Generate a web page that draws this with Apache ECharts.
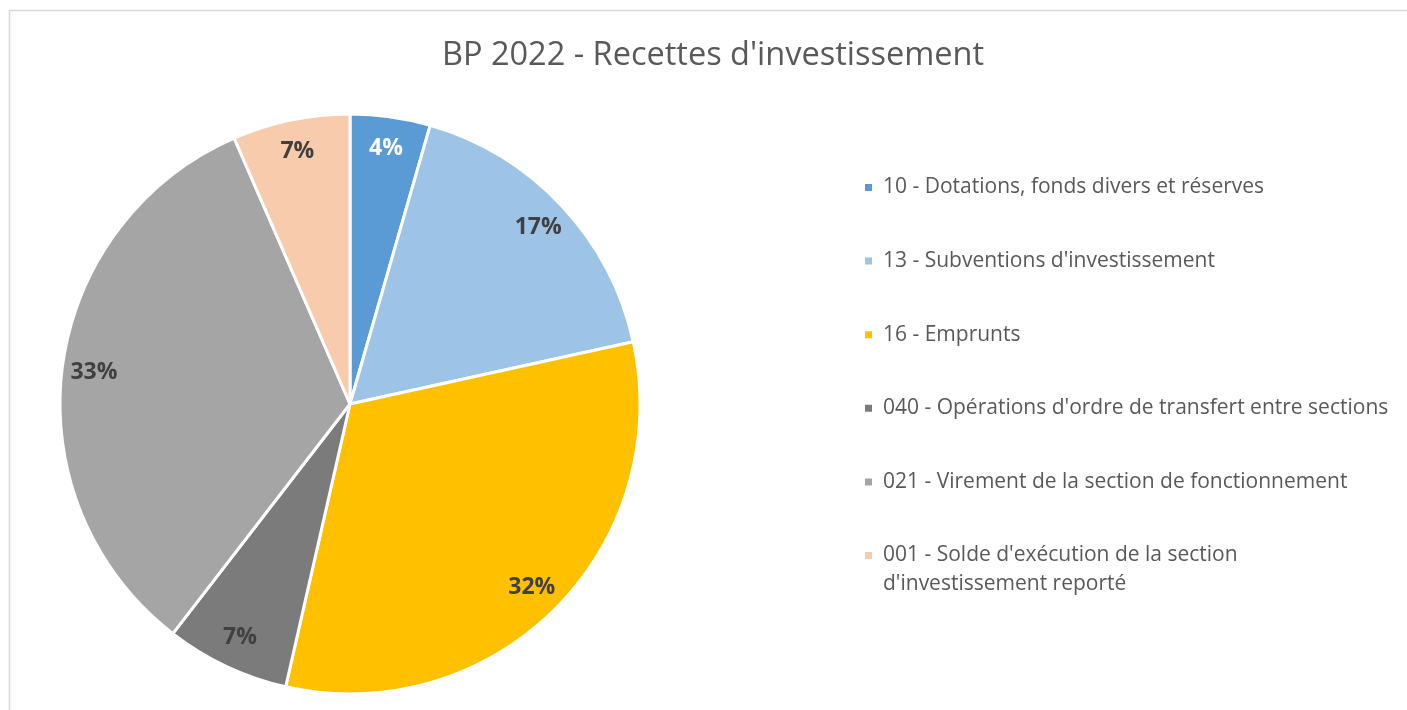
<!DOCTYPE html>
<html>
<head>
<meta charset="utf-8">
<script src="https://cdn.jsdelivr.net/npm/echarts@6/dist/echarts.min.js"></script>
<style>
  html, body { margin: 0; padding: 0; background: #fff; }
  #chart { width: 1407px; height: 710px; }
</style>
</head>
<body>
<div id="chart"></div>
<script>
// catégories et parts (%)
var categories = [
  '10 - Dotations, fonds divers et réserves',
  '13 - Subventions d\'investissement',
  '16 - Emprunts',
  '040 - Opérations d\'ordre de transfert entre sections',
  '021 - Virement de la section de fonctionnement',
  '001 - Solde d\'exécution de la section d\'investissement reporté'
];
var shares = [4.46, 17.1, 32.0, 6.9, 33.0, 6.54];
var colors = ['#5B9BD5', '#9DC3E6', '#FFC000', '#7B7B7B', '#A5A5A5', '#F8CBAD'];
var labelColors = ['#FFFFFF', '#404040', '#404040', '#404040', '#404040', '#404040'];

var FONT = '"Open Sans", sans-serif';

var pieData = categories.map(function (name, i) {
  return { name: name, value: shares[i] };
});

// anneau transparent qui sert juste à placer les étiquettes vers le bord
var labelData = categories.map(function (name, i) {
  return {
    name: name,
    value: shares[i],
    itemStyle: { color: 'rgba(0,0,0,0)', borderWidth: 0 },
    label: { color: labelColors[i] }
  };
});

var lastName = categories[categories.length - 1];

var legendText = {
  fontFamily: FONT,
  fontSize: 21,
  lineHeight: 29,
  color: '#595959',
  padding: [0, 0, 0, 5]
};

var myChart = echarts.init(document.getElementById('chart'));
myChart.setOption({
  animation: false,
  color: colors,
  title: {
    text: 'BP 2022 - Recettes d\'investissement',
    left: 708,
    top: 34,
    textAlign: 'center',
    textStyle: {
      fontFamily: FONT,
      fontSize: 32.5,
      fontWeight: 'normal',
      color: '#595959'
    }
  },
  legend: [
    {
      orient: 'vertical',
      left: 858,
      top: 168,
      itemWidth: 9,
      itemHeight: 9,
      itemGap: 44.6,
      icon: 'rect',
      data: categories.slice(0, categories.length - 1),
      textStyle: legendText
    },
    {
      // dernier poste sur deux lignes : ligne vide en tête pour que
      // la 1re vraie ligne tombe en face du carré
      orient: 'vertical',
      left: 858,
      top: 507,
      itemWidth: 9,
      itemHeight: 9,
      icon: 'rect',
      data: [lastName],
      formatter: function () {
        return ' \n001 - Solde d\'exécution de la section\nd\'investissement reporté';
      },
      textStyle: legendText
    }
  ],
  graphic: [{
    type: 'rect',
    silent: true,
    shape: { x: 9.5, y: 10.5, width: 1402, height: 720 },
    style: { fill: 'none', stroke: '#D9D9D9', lineWidth: 1.5 }
  }],
  series: [
    {
      name: 'Recettes',
      type: 'pie',
      center: [350, 404],
      radius: [0, 290],
      startAngle: 90,
      clockwise: true,
      avoidLabelOverlap: false,
      label: { show: false },
      labelLine: { show: false },
      itemStyle: { borderColor: '#FFFFFF', borderWidth: 3 },
      emphasis: { disabled: true },
      data: pieData
    },
    {
      name: 'Etiquettes',
      type: 'pie',
      center: [350, 404],
      radius: [220, 290],
      startAngle: 90,
      clockwise: true,
      silent: true,
      avoidLabelOverlap: false,
      legendHoverLink: false,
      label: {
        show: true,
        position: 'inside',
        fontFamily: FONT,
        fontSize: 23,
        fontWeight: 'bold',
        formatter: function (p) { return Math.round(p.percent) + '%'; }
      },
      labelLine: { show: false },
      emphasis: { disabled: true },
      data: labelData
    }
  ]
});
</script>
</body>
</html>
